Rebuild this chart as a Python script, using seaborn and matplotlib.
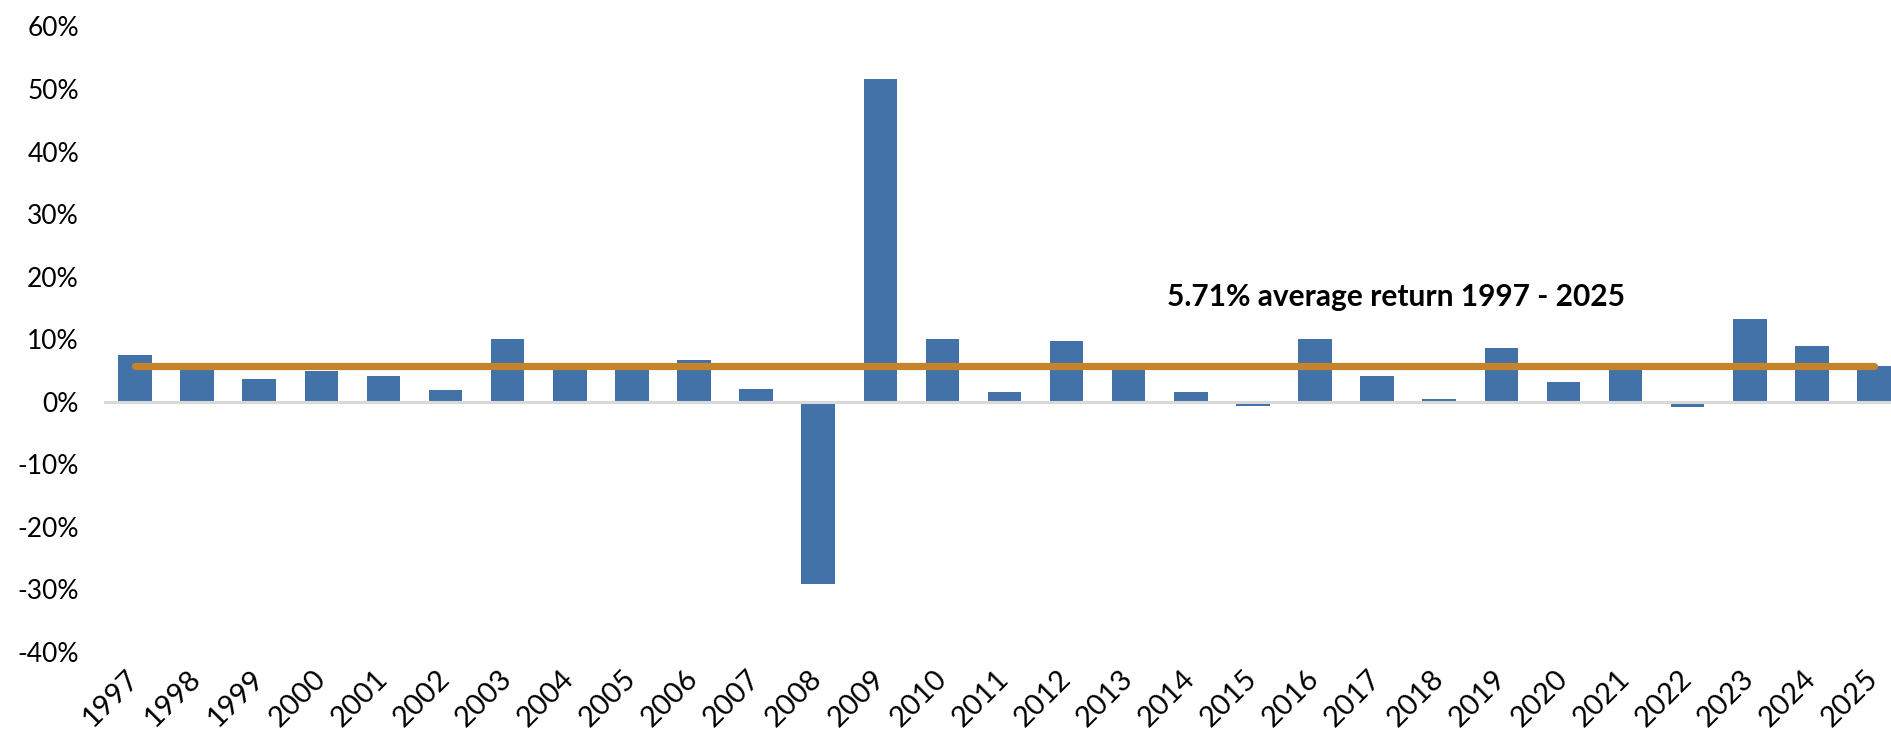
import numpy as np
import pandas as pd
import matplotlib
matplotlib.use("Agg")
import matplotlib.pyplot as plt
from matplotlib.ticker import PercentFormatter, MultipleLocator
import seaborn as sns

# Annual returns (%)
years = [str(y) for y in range(1997, 2026)]
annual_return = [7.5, 5.4, 3.6, 5.0, 4.1, 1.9, 10.0, 5.1, 5.1, 6.7,
                 2.0, -29.1, 51.6, 10.1, 1.5, 9.7, 5.3, 1.6, -0.7, 10.1,
                 4.1, 0.4, 8.6, 3.1, 5.3, -0.8, 13.3, 8.9, 5.8]
average_return = 5.71
average_label = "5.71% average return 1997 - 2025"

BAR_BLUE = "#4372A9"
AVG_ORANGE = "#C5832B"

sns.set_theme(style="white")
plt.rcParams["font.family"] = ["Lato", "DejaVu Sans"]
plt.rcParams["axes.unicode_minus"] = False

df = pd.DataFrame({"year": years, "ret": annual_return})

fig = plt.figure(figsize=(18.91, 7.36), dpi=100)
ax = fig.add_axes([104 / 1891, 1 - 652 / 736, 1801 / 1891, 625.5 / 736])

sns.barplot(data=df, x="year", y="ret", color=BAR_BLUE, saturation=1,
            width=0.54, linewidth=0, ax=ax, zorder=2)

ax.axhline(0, color="#D9D9D9", linewidth=2.2, zorder=3)

avg_df = pd.DataFrame({"pos": np.arange(len(years)),
                       "avg": [average_return] * len(years)})
sns.lineplot(data=avg_df, x="pos", y="avg", color=AVG_ORANGE, linewidth=5.2,
             solid_capstyle="round", ax=ax, zorder=4)

ax.text(20.3, 16.75, average_label, ha="center", va="center",
        fontsize=21.5, fontweight="bold", color="black", zorder=5)

ax.set_xlim(-0.5, len(years) - 0.5)
ax.set_ylim(-40, 60)
ax.yaxis.set_major_locator(MultipleLocator(10))
ax.yaxis.set_major_formatter(PercentFormatter(xmax=100, decimals=0))
ax.set_xlabel("")
ax.set_ylabel("")
for s in ax.spines.values():
    s.set_visible(False)
ax.tick_params(axis="both", length=0)
ax.tick_params(axis="y", labelsize=19, pad=18, labelcolor="black")
ax.tick_params(axis="x", labelsize=21, pad=16, labelcolor="black")
for lbl in ax.get_xticklabels():
    lbl.set_rotation(45)
    lbl.set_ha("right")
    lbl.set_rotation_mode("anchor")
    lbl.set_va("center")

fig.savefig("out.png", dpi=100, facecolor="white")
